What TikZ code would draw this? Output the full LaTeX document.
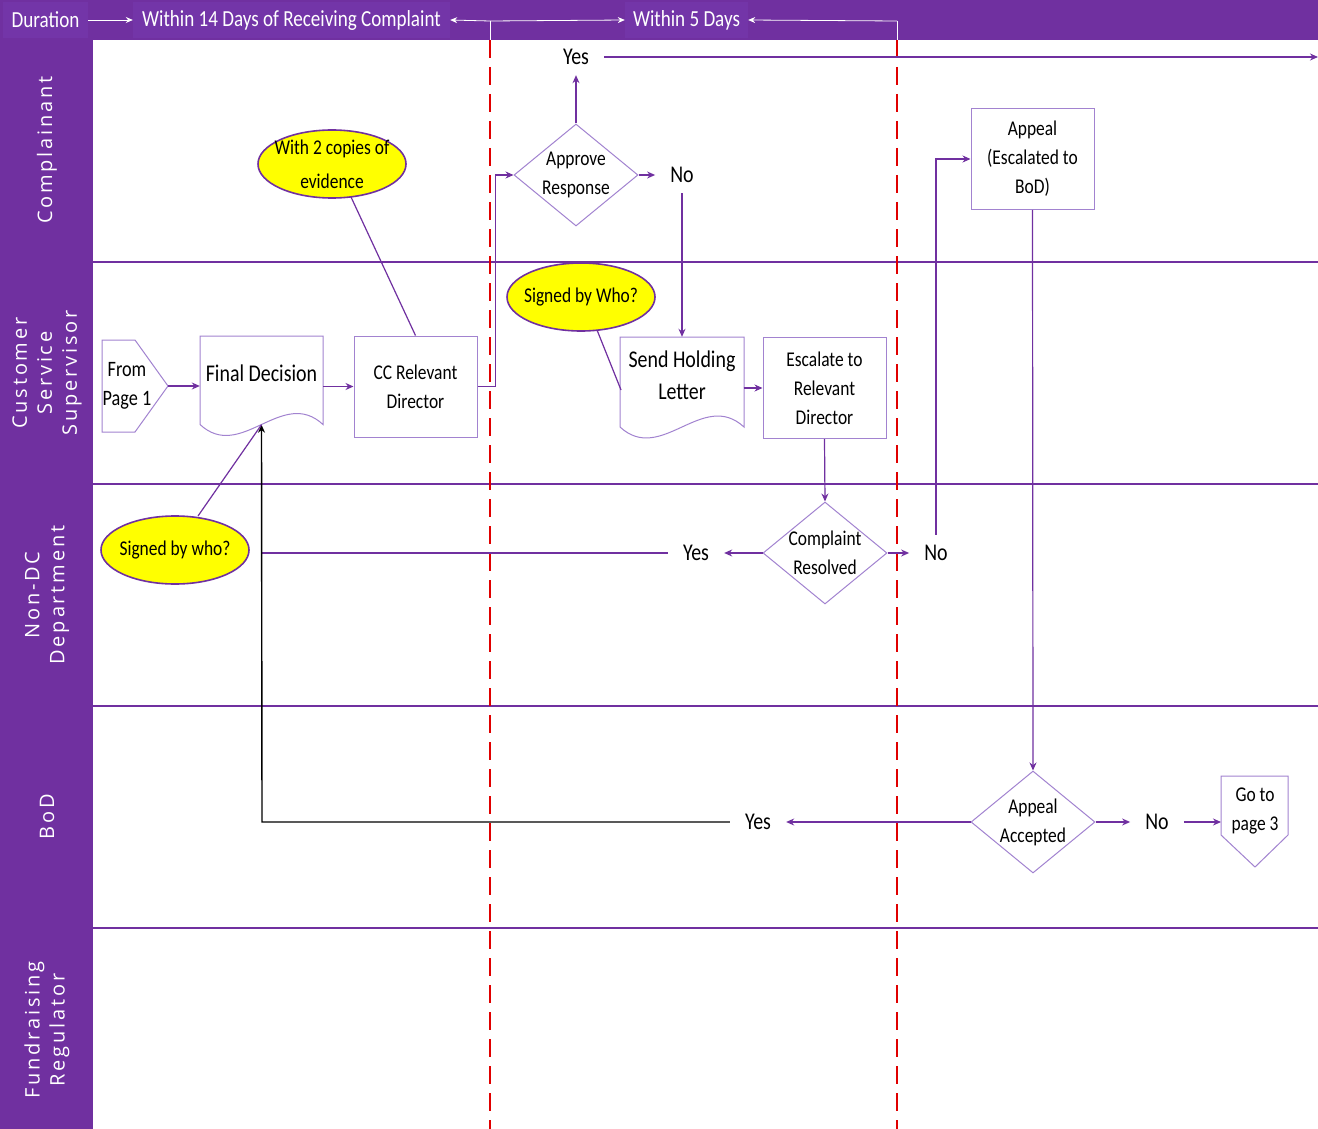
\documentclass[tikz,border=0pt]{standalone}
\usepackage{fontspec}
\setmainfont{Carlito}[FakeStretch=0.83]
\newfontfamily\lanefont{Open Sans}[LetterSpace=14]
\usetikzlibrary{arrows.meta,shapes.geometric,calc}
\definecolor{hdr}{HTML}{7030A0}
\definecolor{hbox}{HTML}{7335A8}
\definecolor{conn}{HTML}{7030A0}
\definecolor{bord}{HTML}{A283D0}
\definecolor{reddash}{HTML}{E00000}
\definecolor{ylw}{HTML}{FFFF00}
\tikzset{
 arr/.style={-{Stealth[length=8pt,width=7pt]}, draw=conn, line width=1.2pt},
 lnk/.style={draw=conn, line width=1.2pt},
 blk/.style={-{Stealth[length=8pt,width=7pt]}, draw=black, line width=1.4pt},
 boxn/.style={draw=bord, line width=1pt, fill=white, minimum width=123pt, minimum height=101pt, inner sep=0pt, align=center, font=\fontsize{21}{29}\selectfont},
 docn/.style={draw=none, minimum width=123pt, inner sep=0pt},
 docline/.style={draw=bord, line width=1pt, fill=white},
 dia/.style={diamond, draw=bord, line width=1pt, fill=white, minimum width=124pt, minimum height=102pt, inner sep=0pt},
 dtxt/.style={align=center, font=\fontsize{21}{29}\selectfont},
 bigtxt/.style={align=center, font=\fontsize{24}{32}\selectfont},
 lbl/.style={font=\fontsize{24}{28}\selectfont, minimum height=36pt, inner xsep=15pt, inner ysep=0pt},
 bub/.style={ellipse, draw=conn, line width=1.6pt, fill=ylw, minimum width=148pt, minimum height=68pt, inner sep=0pt},
 bubtxt/.style={align=center, font=\fontsize{21}{34}\selectfont},
 hd/.style={fill=hbox, text=white, font=\fontsize{23}{28}\selectfont, inner sep=0pt, minimum height=36pt},
 harr/.style={-{Stealth[length=7pt,width=6pt]}, draw=white, line width=0.8pt},
 harl/.style={draw=white, line width=0.8pt},
 lane/.style={rotate=90, text=white, align=center, font=\lanefont\fontsize{20}{25}\selectfont},
 sepline/.style={draw=conn, line width=1.6pt},
 rdash/.style={draw=reddash, line width=1.6pt, dash pattern=on 18pt off 9pt},
}
\newcommand\docoutline[4]{%
 \path[docline] (#1,#2) -- (#3,#2) -- (#3,#4)
   .. controls ({#3-(#3-#1)/3},{#4-38}) and ({#1+(#3-#1)/3},{#4+38}) .. (#1,#4) -- cycle;}
\begin{document}
\begin{tikzpicture}[x=1pt,y=-1pt]
\useasboundingbox (0,0) rectangle (1318,1129);
\fill[white] (0,0) rectangle (1318,1129);
% header and lane column
\fill[hdr] (0,0) rectangle (1318,40);
\fill[hdr] (0,40) rectangle (93,1129);
% lane separators
\foreach \yy in {262,484,706,928} {\path[sepline] (93,\yy) -- (1318,\yy);}
% lane labels
\node[lane] (l1) at (47,150) {Complainant};
\node[lane] (l2) at (47,373) {Customer\\Service\\Supervisor};
\node[lane] (l3) at (47,595) {Non-DC\\Department};
\node[lane] (l4) at (47,817) {BoD};
\node[lane] (l5) at (47,1030) {Fundraising\\Regulator};
% header labels
\node[hd, minimum width=85pt] (dur) at (45.5,20) {Duration};
\node[hd, minimum width=317pt] (w14) at (291.5,20) {Within 14 Days of Receiving Complaint};
\node[hd, minimum width=123pt] (w5) at (686.5,20) {Within 5 Days};
\coordinate (t1) at (490,21);
\coordinate (t2) at (897,21);
\coordinate (t1b) at (490,40);
\coordinate (t2b) at (897,40);
\path[harr] (dur.east) -- (w14.west);
\path[harr] (t1) -- (w14.east);
\path[harr] (t1) -- (w5.west);
\path[harr] (t2) -- (w5.east);
\path[harl] (t1) -- (t1b);
\path[harl] (t2) -- (t2b);
% red dashed lines
\coordinate (r1e) at (490,1129);
\coordinate (r2e) at (897,1129);
\path[rdash] (t1b) -- (r1e);
\path[rdash] (t2b) -- (r2e);

% From Page 1
\path[docline] (102,340) -- (135,340) -- (168,386) -- (135,432) -- (102,432) -- cycle;
\coordinate (fp) at (168,386);
\node[dtxt, font=\fontsize{22}{29}\selectfont] (fptxt) at (127,386) {From\\Page 1};
% Final Decision
\docoutline{200}{336}{323}{424.5}
\node[docn, minimum height=88.5pt] (fd) at (261.5,380.25) {};
\node[bigtxt] (fdt) at (261.5,373) {Final Decision};
% CC Relevant Director
\node[boxn] (cc) at (415.5,386.5) {CC Relevant\\Director};
% Approve Response
\node[dia] (ar) at (576,175) {};
\node[dtxt] (art) at (ar) {Approve\\Response};
% Yes / No labels
\node[lbl] (yes1) at (576,57) {Yes};
\node[lbl] (no1) at (682,175) {No};
% Send Holding Letter
\docoutline{620}{337}{744}{427}
\node[docn, minimum height=90pt] (shl) at (682,382) {};
\node[bigtxt] (shlt) at (682,375) {Send Holding\\Letter};
% Escalate
\node[boxn] (esc) at (824.5,388) {Escalate to\\Relevant\\Director};
% Complaint Resolved
\node[dia] (cr) at (825,553) {};
\node[dtxt] (crt) at (cr) {Complaint\\Resolved};
\node[lbl] (yes2) at (696,553) {Yes};
\node[lbl] (no2) at (936,553) {No};
% Appeal
\node[boxn] (ap) at (1032.5,159) {Appeal\\(Escalated to\\BoD)};
% Appeal Accepted
\node[dia] (aa) at (1033,822) {};
\node[dtxt] (aat) at (aa) {Appeal\\Accepted};
\node[lbl] (yes3) at (758,822) {Yes};
\node[lbl] (no3) at (1157,822) {No};
% Go to page 3
\path[docline] (1221,776) -- (1288,776) -- (1288,835) -- (1255,867) -- (1221,835) -- cycle;
\coordinate (gp) at (1221,822);
\node[dtxt] (gpt) at (1255,810.5) {Go to\\page 3};
% callouts
\node[bub] (ev) at (332,164) {};
\node[bubtxt] (evt) at (ev) {With 2 copies of\\evidence};
\node[bub] (sw1) at (581,297) {};
\node[bubtxt] (sw1t) at (sw1) {Signed by Who?};
\node[bub] (sw2) at (175,550) {};
\node[bubtxt] (sw2t) at (sw2) {Signed by who?};

% connectors
\path[arr] (fp) -- (fd.west |- fp);
\path[arr] (fd.east |- cc.west) -- (cc.west);
\path[arr] (cc.east) -- ++(18,0) |- (ar.west);
\path[arr] (ar.north) -- (yes1.south);
\coordinate (redge) at (1318,57);
\path[arr] (yes1.east) -- (redge);
\path[arr] (ar.east) -- (no1.west);
\path[arr] (no1.south) -- (shl.north);
\path[arr] (shl.east |- esc.west) -- (esc.west);
\path[arr] (esc.south) -- (cr.north);
\path[arr] (cr.west) -- (yes2.east);
\coordinate (j1) at (262,553);
\path[lnk] (yes2.west) -- (j1);
\path[arr] (cr.east) -- (no2.west);
\path[arr] (no2.north) |- (ap.west);
\path[arr] (ap.south) -- (aa.north);
\path[arr] (aa.west) -- (yes3.east);
\path[arr] (aa.east) -- (no3.west);
\path[arr] (no3.east) -- (gp);
\coordinate (j2) at (262,822);
\path[blk] (yes3.west) -- (j2) -- (fd.south);
% callout leaders
\coordinate (evp) at (351,197);
\path[lnk] (evp) -- (cc.north);
\coordinate (sw1p) at (597,330);
\coordinate (shlp) at (621,390);
\path[lnk] (sw1p) -- (shlp);
\coordinate (sw2p) at (198,516);
\path[lnk] (sw2p) -- (fd.south);
\end{tikzpicture}
\end{document}
